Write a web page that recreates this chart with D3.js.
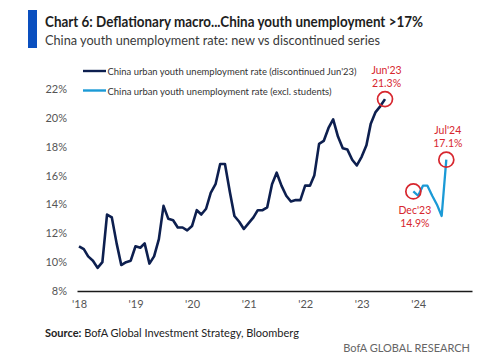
<!DOCTYPE html>
<html>
<head>
<meta charset="utf-8">
<script src="https://cdn.jsdelivr.net/npm/d3@7"></script>
<style>
  body { margin: 0; background: #fff; }
  svg text { font-family: Lato, "Open Sans", sans-serif; }
</style>
</head>
<body>
<div id="chart"></div>
<script>
// discontinued series, monthly from Jan'18 to Jun'23
var old_start = '2018-01';
var old_values = [
  11.1, 10.9, 10.4, 10.1, 9.6, 10.0, 13.3, 13.1, 11.3, 9.8, 10.0, 10.1,
  11.1, 11.0, 11.3, 9.9, 10.4, 11.6, 13.9, 13.0, 12.9, 12.4, 12.4, 12.2,
  12.5, 13.6, 13.3, 13.7, 14.8, 15.4, 16.8, 16.8, 14.9, 13.2, 12.8, 12.3,
  12.7, 13.1, 13.6, 13.6, 13.8, 15.4, 16.2, 15.3, 14.6, 14.2, 14.3, 14.3,
  15.3, 15.3, 16.0, 18.2, 18.4, 19.3, 19.9, 18.7, 17.9, 17.8, 17.1, 16.7,
  17.3, 18.1, 19.6, 20.4, 20.8, 21.3
];
// new series (excl. students), monthly from Dec'23
var new_start = '2023-12';
var new_values = [14.9, 14.6, 15.3, 15.3, 14.6, 14.0, 13.2, 17.1];

var series_names = [
  "China urban youth unemployment rate (discontinued Jun'23)",
  'China urban youth unemployment rate (excl. students)'
];
var y_ticks = [8, 10, 12, 14, 16, 18, 20, 22];
var x_years = [2018, 2019, 2020, 2021, 2022, 2023, 2024];

// callouts: month, value, label lines, where label sits
var callouts = [
  { month: '2023-06', value: 21.3, lines: ["Jun'23", '21.3%'], pos: 'above' },
  { month: '2023-12', value: 14.9, lines: ["Dec'23", '14.9%'], pos: 'below' },
  { month: '2024-07', value: 17.1, lines: ["Jul'24", '17.1%'], pos: 'above' }
];

var parse_month = d3.timeParse('%Y-%m');

function to_points(start, values) {
  var s = parse_month(start);
  return values.map(function(v, i) {
    return { date: d3.timeMonth.offset(s, i), value: v };
  });
}

var old_data = to_points(old_start, old_values);
var new_data = to_points(new_start, new_values);

var chart_width = 500;
var chart_height = 362;
var navy = '#0d1f4f';
var light_blue = '#1b9ad6';
var red = '#d7262e';

var svg = d3.select('#chart')
  .append('svg')
  .attr('width', chart_width)
  .attr('height', chart_height);

// header
svg.append('rect')
  .attr('x', 28).attr('y', 10)
  .attr('width', 9).attr('height', 38)
  .attr('fill', '#0a4fbf');

svg.append('text')
  .attr('x', 45).attr('y', 27)
  .attr('font-size', '15px')
  .attr('font-weight', 'bold')
  .attr('fill', '#1e1e1e')
  .attr('textLength', 378)
  .attr('lengthAdjust', 'spacingAndGlyphs')
  .text('Chart 6: Deflationary macro...China youth unemployment >17%');

svg.append('text')
  .attr('x', 45).attr('y', 45)
  .attr('font-size', '14px')
  .attr('fill', '#3a3a3a')
  .attr('textLength', 335)
  .attr('lengthAdjust', 'spacingAndGlyphs')
  .text('China youth unemployment rate: new vs discontinued series');

// scales
var x_scale = d3.scaleTime()
  .domain([new Date(2017, 11, 19), new Date(2024, 11, 14)])
  .range([77, 472]);

var y_scale = d3.scaleLinear()
  .domain([8, 22])
  .range([291, 89]);

// y labels
svg.selectAll('.ylab')
  .data(y_ticks)
  .enter()
  .append('text')
  .attr('class', 'ylab')
  .attr('x', 67)
  .attr('y', function(d) { return y_scale(d) + 4; })
  .attr('text-anchor', 'end')
  .attr('font-size', '11px')
  .attr('fill', '#555')
  .text(function(d) { return d + '%'; });

// x axis
var x_axis = d3.axisBottom(x_scale)
  .tickValues(x_years.map(function(y) { return new Date(y, 0, 1); }))
  .tickSize(0)
  .tickPadding(9)
  .tickFormat(function(d) { return "'" + d3.timeFormat('%y')(d); });

var gx = svg.append('g')
  .attr('transform', 'translate(0,' + y_scale(8) + ')')
  .call(x_axis);
gx.select('.domain')
  .attr('stroke', '#1a1a1a')
  .attr('stroke-width', 1.6);
gx.selectAll('text')
  .attr('font-size', '11px')
  .attr('fill', '#555')
  .style('font-family', 'Lato, sans-serif');

// lines
var line = d3.line()
  .x(function(d) { return x_scale(d.date); })
  .y(function(d) { return y_scale(d.value); });

svg.append('path')
  .datum(old_data)
  .attr('d', line)
  .attr('fill', 'none')
  .attr('stroke', navy)
  .attr('stroke-width', 2.6)
  .attr('stroke-linejoin', 'round');

svg.append('path')
  .datum(new_data)
  .attr('d', line)
  .attr('fill', 'none')
  .attr('stroke', light_blue)
  .attr('stroke-width', 2.3)
  .attr('stroke-linejoin', 'round');

// legend
var legend = svg.selectAll('.legend')
  .data(series_names)
  .enter()
  .append('g')
  .attr('class', 'legend')
  .attr('transform', function(d, i) { return 'translate(83,' + (71 + i * 19.5) + ')'; });

legend.append('line')
  .attr('x1', 0).attr('x2', 23)
  .attr('stroke', function(d, i) { return i === 0 ? navy : light_blue; })
  .attr('stroke-width', 2.4);

legend.append('text')
  .attr('x', 24.5)
  .attr('y', 4)
  .attr('font-size', '10px')
  .attr('fill', '#333')
  .attr('textLength', function(d, i) { return i === 0 ? 249 : 224; })
  .attr('lengthAdjust', 'spacingAndGlyphs')
  .text(function(d) { return d; });

// callouts
var call = svg.selectAll('.callout')
  .data(callouts)
  .enter()
  .append('g')
  .attr('class', 'callout');

call.append('circle')
  .attr('cx', function(d) { return x_scale(parse_month(d.month)); })
  .attr('cy', function(d) { return y_scale(d.value); })
  .attr('r', 7.5)
  .attr('fill', 'none')
  .attr('stroke', red)
  .attr('stroke-width', 1.7);

call.each(function(d) {
  var cx = x_scale(parse_month(d.month));
  var cy = y_scale(d.value);
  var g = d3.select(this);
  d.lines.forEach(function(t, i) {
    // two stacked lines
    var y = d.pos === 'above' ? cy - 12.5 - (1 - i) * 13 : cy + 22.5 + i * 13;
    g.append('text')
      .attr('x', cx + 1.5)
      .attr('y', y)
      .attr('text-anchor', 'middle')
      .attr('font-size', '10.5px')
      .attr('fill', red)
      .text(t);
  });
});

// footer
var src = svg.append('text')
  .attr('x', 45).attr('y', 337)
  .attr('font-size', '11px')
  .attr('fill', '#222');
src.append('tspan').attr('font-weight', 'bold').text('Source:');
src.append('tspan').text(' BofA Global Investment Strategy, Bloomberg');

svg.append('text')
  .attr('x', 470).attr('y', 352)
  .attr('text-anchor', 'end')
  .attr('font-size', '11px')
  .attr('fill', '#666')
  .text('BofA GLOBAL RESEARCH');
</script>
</body>
</html>
